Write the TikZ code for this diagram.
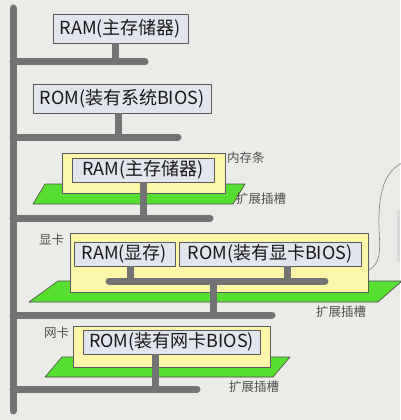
\documentclass[tikz,border=0pt]{standalone}
\usepackage{fontspec}
\newfontfamily\cjk{Noto Sans CJK SC}
\usetikzlibrary{positioning}
\definecolor{bggray}{RGB}{235,235,231}
\definecolor{busgray}{RGB}{115,115,115}
\definecolor{chipfill}{RGB}{226,229,238}
\definecolor{cardyellow}{RGB}{252,247,168}
\definecolor{slotgreen}{RGB}{86,222,48}
\definecolor{edgegray}{RGB}{90,90,90}
\definecolor{labelgray}{RGB}{80,80,80}
\tikzset{
  chipbox/.style={draw=edgegray,fill=chipfill,line width=0.9pt,inner sep=0pt,
    font=\cjk\fontsize{18}{18}\selectfont,text=black!90},
  cardbox/.style={draw=edgegray,fill=cardyellow,line width=0.8pt,inner sep=0pt},
  slotfill/.style={draw=black!70,fill=slotgreen,line width=0.6pt},
  busline/.style={draw=busgray,line width=7pt,line cap=round},
  stemline/.style={draw=busgray,line width=7pt,line cap=butt},
  handlabel/.style={anchor=west,inner sep=0pt,text=labelgray,font=\cjk\fontsize{12.5}{13}\selectfont}
}
\begin{document}
\begin{tikzpicture}[x=1pt,y=-1pt,line join=round]
  \useasboundingbox (0,0) rectangle (400,420);
  \fill[bggray] (0,0) rectangle (400,420);
  \fill[gray!30] (397,210) rectangle (400,262);

  % expansion slots
  \draw[slotfill] (33,204) -- (233,204) -- (245,184) -- (45,184) -- cycle;
  \draw[slotfill] (29,302) -- (378,302) -- (402,281) -- (58,281) -- cycle;
  \draw[slotfill] (45,377) -- (273,377) -- (290,357) -- (62,357) -- cycle;

  % cards
  \node[cardbox,minimum width=163pt,minimum height=40pt] (memcard) at (143.5,173) {};
  \node[cardbox,minimum width=298pt,minimum height=59pt] (vgacard) at (219,262.5) {};
  \node[cardbox,minimum width=197pt,minimum height=41pt] (netcard) at (171.5,346.5) {};

  % chips
  \node[chipbox,minimum width=135pt,minimum height=29pt] (ram) at (120.5,28.5) {RAM(主存储器)};
  \node[chipbox,minimum width=178pt,minimum height=29pt] (sysrom) at (122,98.5) {ROM(装有系统BIOS)};
  \node[chipbox,minimum width=142pt,minimum height=24pt] (memram) at (143,170) {RAM(主存储器)};
  \node[chipbox,minimum width=101pt,minimum height=24pt] (vram) at (124.5,254) {RAM(显存)};
  \node[chipbox,minimum width=182pt,minimum height=24pt] (vgarom) at (270,254) {ROM(装有显卡BIOS)};
  \node[chipbox,minimum width=177pt,minimum height=24pt] (netrom) at (171.5,342) {ROM(装有网卡BIOS)};

  % bus
  \coordinate (top) at (13,8);
  \coordinate (bottom) at (13,411);
  \coordinate (b1) at (145,62);
  \coordinate (b2) at (178,137);
  \coordinate (b3) at (210,218);
  \coordinate (b4) at (272,315);
  \coordinate (b5) at (197,389);
  \coordinate (vl) at (109,281);
  \coordinate (vr) at (325,281);
  \draw[busline] (top) -- (bottom);
  \foreach \b in {b1,b2,b3,b4,b5}
    \draw[busline] (top |- \b) -- (\b);
  \draw[busline] (vl) -- (vr);

  \draw[stemline] ([xshift=-5pt]ram.south) -- ([xshift=-5pt]ram.south |- b1);
  \draw[stemline] ([xshift=-4pt]sysrom.south) -- ([xshift=-4pt]sysrom.south |- b2);
  \draw[stemline] (memram.south) -- (memram.south |- b3);
  \draw[stemline] ([xshift=6pt]vram.south) -- ([xshift=6pt]vram.south |- vl);
  \draw[stemline] ([xshift=17pt]vgarom.south) -- ([xshift=17pt]vgarom.south |- vl);
  \draw[stemline] (213,281) -- (213,315);
  \draw[stemline] ([xshift=-16pt]netrom.south) -- ([xshift=-16pt]netrom.south |- b5);

  % cable
  \draw[gray,line width=0.6pt] ([yshift=-7.5pt]vgacard.east) .. controls (385,262) and (378,240) .. (379,215)
    .. controls (380,185) and (388,170) .. (402,163);

  % labels
  \node[handlabel] (memlbl) at (227,158) {内存条};
  \node[handlabel] (slot1) at (236,199) {扩展插槽};
  \node[handlabel] (vgalbl) at (39,240) {显卡};
  \node[handlabel] (slot2) at (316,312) {扩展插槽};
  \node[handlabel] (netlbl) at (44,333) {网卡};
  \node[handlabel] (slot3) at (229,387) {扩展插槽};
\end{tikzpicture}
\end{document}
